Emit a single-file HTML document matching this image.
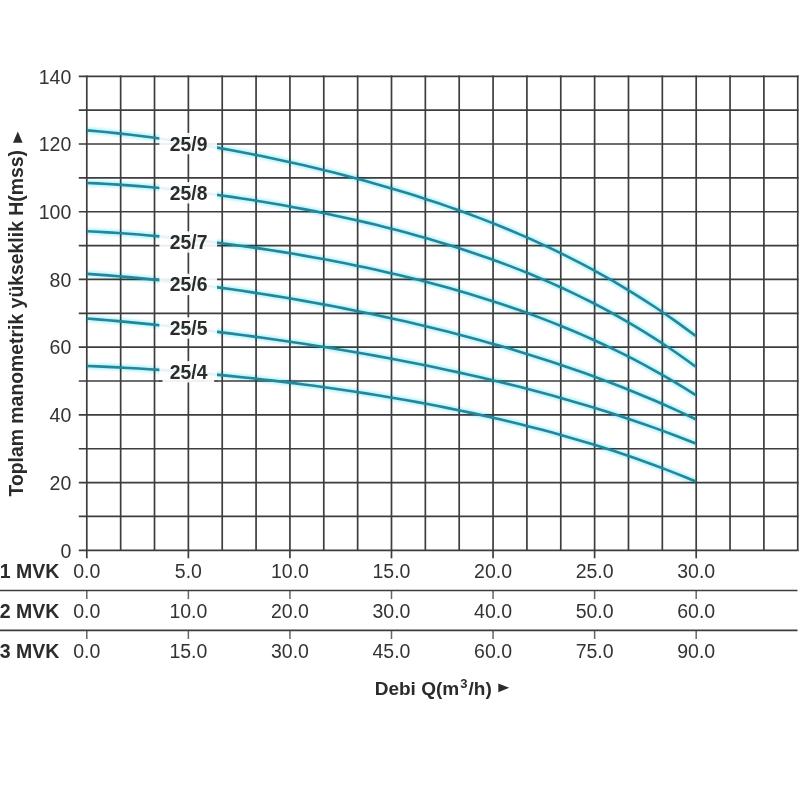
<!DOCTYPE html><html><head><meta charset="utf-8"><style>html,body{margin:0;padding:0;background:#fff;}svg{display:block;filter:blur(0.35px)}</style></head><body>
<svg width="800" height="800" viewBox="0 0 800 800">
<rect width="800" height="800" fill="#fff"/>
<g stroke="#3d3d3d" stroke-width="1.70" fill="none"><line x1="78.8" y1="76.30" x2="798.55" y2="76.30"/><line x1="78.8" y1="110.16" x2="798.55" y2="110.16"/><line x1="78.8" y1="144.01" x2="798.55" y2="144.01"/><line x1="78.8" y1="177.87" x2="798.55" y2="177.87"/><line x1="78.8" y1="211.73" x2="798.55" y2="211.73"/><line x1="78.8" y1="245.58" x2="798.55" y2="245.58"/><line x1="78.8" y1="279.44" x2="798.55" y2="279.44"/><line x1="78.8" y1="313.30" x2="798.55" y2="313.30"/><line x1="78.8" y1="347.16" x2="798.55" y2="347.16"/><line x1="78.8" y1="381.01" x2="798.55" y2="381.01"/><line x1="78.8" y1="414.87" x2="798.55" y2="414.87"/><line x1="78.8" y1="448.73" x2="798.55" y2="448.73"/><line x1="78.8" y1="482.58" x2="798.55" y2="482.58"/><line x1="78.8" y1="516.44" x2="798.55" y2="516.44"/><line x1="78.8" y1="550.30" x2="798.55" y2="550.30"/><line x1="86.80" y1="75.50" x2="86.80" y2="551.10"/><line x1="120.66" y1="75.50" x2="120.66" y2="551.10"/><line x1="154.51" y1="75.50" x2="154.51" y2="551.10"/><line x1="188.37" y1="75.50" x2="188.37" y2="551.10"/><line x1="222.22" y1="75.50" x2="222.22" y2="551.10"/><line x1="256.07" y1="75.50" x2="256.07" y2="551.10"/><line x1="289.93" y1="75.50" x2="289.93" y2="551.10"/><line x1="323.78" y1="75.50" x2="323.78" y2="551.10"/><line x1="357.64" y1="75.50" x2="357.64" y2="551.10"/><line x1="391.50" y1="75.50" x2="391.50" y2="551.10"/><line x1="425.35" y1="75.50" x2="425.35" y2="551.10"/><line x1="459.20" y1="75.50" x2="459.20" y2="551.10"/><line x1="493.06" y1="75.50" x2="493.06" y2="551.10"/><line x1="526.91" y1="75.50" x2="526.91" y2="551.10"/><line x1="560.77" y1="75.50" x2="560.77" y2="551.10"/><line x1="594.62" y1="75.50" x2="594.62" y2="551.10"/><line x1="628.48" y1="75.50" x2="628.48" y2="551.10"/><line x1="662.33" y1="75.50" x2="662.33" y2="551.10"/><line x1="696.19" y1="75.50" x2="696.19" y2="551.10"/><line x1="730.04" y1="75.50" x2="730.04" y2="551.10"/><line x1="763.90" y1="75.50" x2="763.90" y2="551.10"/><line x1="797.75" y1="75.50" x2="797.75" y2="551.10"/><line x1="86.80" y1="550.30" x2="86.80" y2="558.30"/><line x1="86.80" y1="590.50" x2="86.80" y2="599.10" stroke="#666" stroke-width="1.5"/><line x1="86.80" y1="630.40" x2="86.80" y2="639.00" stroke="#666" stroke-width="1.5"/><line x1="188.37" y1="550.30" x2="188.37" y2="558.30"/><line x1="188.37" y1="590.50" x2="188.37" y2="599.10" stroke="#666" stroke-width="1.5"/><line x1="188.37" y1="630.40" x2="188.37" y2="639.00" stroke="#666" stroke-width="1.5"/><line x1="289.93" y1="550.30" x2="289.93" y2="558.30"/><line x1="289.93" y1="590.50" x2="289.93" y2="599.10" stroke="#666" stroke-width="1.5"/><line x1="289.93" y1="630.40" x2="289.93" y2="639.00" stroke="#666" stroke-width="1.5"/><line x1="391.50" y1="550.30" x2="391.50" y2="558.30"/><line x1="391.50" y1="590.50" x2="391.50" y2="599.10" stroke="#666" stroke-width="1.5"/><line x1="391.50" y1="630.40" x2="391.50" y2="639.00" stroke="#666" stroke-width="1.5"/><line x1="493.06" y1="550.30" x2="493.06" y2="558.30"/><line x1="493.06" y1="590.50" x2="493.06" y2="599.10" stroke="#666" stroke-width="1.5"/><line x1="493.06" y1="630.40" x2="493.06" y2="639.00" stroke="#666" stroke-width="1.5"/><line x1="594.62" y1="550.30" x2="594.62" y2="558.30"/><line x1="594.62" y1="590.50" x2="594.62" y2="599.10" stroke="#666" stroke-width="1.5"/><line x1="594.62" y1="630.40" x2="594.62" y2="639.00" stroke="#666" stroke-width="1.5"/><line x1="696.19" y1="550.30" x2="696.19" y2="558.30"/><line x1="696.19" y1="590.50" x2="696.19" y2="599.10" stroke="#666" stroke-width="1.5"/><line x1="696.19" y1="630.40" x2="696.19" y2="639.00" stroke="#666" stroke-width="1.5"/><line x1="0" y1="590.50" x2="797.5" y2="590.50"/><line x1="0" y1="630.40" x2="797.5" y2="630.40"/></g>
<defs><filter id="hb" x="-5%%" y="-5%%" width="110%%" height="110%%"><feGaussianBlur stdDeviation="1.3"/></filter></defs>
<g fill="none" stroke="#a8f0fa" stroke-width="6.5" stroke-linecap="butt" opacity="0.75" filter="url(#hb)" style="mix-blend-mode:multiply"><path d="M87.20 130.39 L97.52 131.29 L107.83 132.29 L118.15 133.36 L128.46 134.52 L138.78 135.76 L149.09 137.08 L159.41 138.48 L169.72 139.95 L180.04 141.49 L190.35 143.10 L200.67 144.78 L210.98 146.53 L221.30 148.35 L231.61 150.24 L241.93 152.19 L252.24 154.21 L262.56 156.30 L272.87 158.46 L283.19 160.68 L293.51 162.97 L303.82 165.33 L314.14 167.76 L324.45 170.26 L334.77 172.84 L345.08 175.49 L355.40 178.22 L365.71 181.02 L376.03 183.91 L386.34 186.88 L396.66 189.94 L406.97 193.08 L417.29 196.32 L427.60 199.66 L437.92 203.09 L448.23 206.63 L458.55 210.27 L468.86 214.03 L479.18 217.90 L489.49 221.90 L499.81 226.02 L510.13 230.27 L520.44 234.65 L530.76 239.18 L541.07 243.85 L551.39 248.68 L561.70 253.66 L572.02 258.81 L582.33 264.13 L592.65 269.63 L602.96 275.32 L613.28 281.20 L623.59 287.27 L633.91 293.56 L644.22 300.06 L654.54 306.78 L664.85 313.74 L675.17 320.93 L685.48 328.37 L695.80 336.07"/><path d="M87.20 182.94 L97.52 183.40 L107.83 183.97 L118.15 184.61 L128.46 185.35 L138.78 186.17 L149.09 187.07 L159.41 188.04 L169.72 189.09 L180.04 190.22 L190.35 191.42 L200.67 192.69 L210.98 194.02 L221.30 195.43 L231.61 196.91 L241.93 198.45 L252.24 200.06 L262.56 201.74 L272.87 203.48 L283.19 205.30 L293.51 207.18 L303.82 209.13 L314.14 211.15 L324.45 213.25 L334.77 215.41 L345.08 217.66 L355.40 219.98 L365.71 222.37 L376.03 224.86 L386.34 227.42 L396.66 230.08 L406.97 232.82 L417.29 235.66 L427.60 238.60 L437.92 241.64 L448.23 244.78 L458.55 248.04 L468.86 251.41 L479.18 254.90 L489.49 258.51 L499.81 262.25 L510.13 266.13 L520.44 270.16 L530.76 274.32 L541.07 278.64 L551.39 283.12 L561.70 287.77 L572.02 292.59 L582.33 297.59 L592.65 302.78 L602.96 308.16 L613.28 313.75 L623.59 319.54 L633.91 325.56 L644.22 331.80 L654.54 338.28 L664.85 345.00 L675.17 351.98 L685.48 359.22 L695.80 366.73"/><path d="M87.20 231.31 L97.52 231.82 L107.83 232.41 L118.15 233.06 L128.46 233.78 L138.78 234.57 L149.09 235.43 L159.41 236.35 L169.72 237.34 L180.04 238.38 L190.35 239.49 L200.67 240.66 L210.98 241.88 L221.30 243.17 L231.61 244.52 L241.93 245.92 L252.24 247.38 L262.56 248.91 L272.87 250.49 L283.19 252.14 L293.51 253.84 L303.82 255.61 L314.14 257.44 L324.45 259.33 L334.77 261.30 L345.08 263.32 L355.40 265.42 L365.71 267.59 L376.03 269.84 L386.34 272.16 L396.66 274.55 L406.97 277.03 L417.29 279.59 L427.60 282.24 L437.92 284.98 L448.23 287.81 L458.55 290.74 L468.86 293.77 L479.18 296.90 L489.49 300.14 L499.81 303.49 L510.13 306.96 L520.44 310.55 L530.76 314.26 L541.07 318.11 L551.39 322.09 L561.70 326.21 L572.02 330.47 L582.33 334.89 L592.65 339.47 L602.96 344.20 L613.28 349.11 L623.59 354.19 L633.91 359.45 L644.22 364.90 L654.54 370.55 L664.85 376.39 L675.17 382.45 L685.48 388.72 L695.80 395.21"/><path d="M87.20 273.84 L97.52 274.58 L107.83 275.38 L118.15 276.23 L128.46 277.15 L138.78 278.12 L149.09 279.15 L159.41 280.23 L169.72 281.37 L180.04 282.57 L190.35 283.81 L200.67 285.11 L210.98 286.46 L221.30 287.86 L231.61 289.31 L241.93 290.81 L252.24 292.36 L262.56 293.96 L272.87 295.61 L283.19 297.32 L293.51 299.07 L303.82 300.87 L314.14 302.73 L324.45 304.63 L334.77 306.59 L345.08 308.60 L355.40 310.67 L365.71 312.79 L376.03 314.96 L386.34 317.20 L396.66 319.48 L406.97 321.83 L417.29 324.24 L427.60 326.71 L437.92 329.24 L448.23 331.84 L458.55 334.50 L468.86 337.23 L479.18 340.03 L489.49 342.90 L499.81 345.85 L510.13 348.87 L520.44 351.97 L530.76 355.15 L541.07 358.42 L551.39 361.76 L561.70 365.20 L572.02 368.73 L582.33 372.35 L592.65 376.07 L602.96 379.88 L613.28 383.80 L623.59 387.82 L633.91 391.96 L644.22 396.20 L654.54 400.56 L664.85 405.04 L675.17 409.64 L685.48 414.37 L695.80 419.23"/><path d="M87.20 318.49 L97.52 319.34 L107.83 320.23 L118.15 321.15 L128.46 322.11 L138.78 323.11 L149.09 324.14 L159.41 325.21 L169.72 326.31 L180.04 327.45 L190.35 328.62 L200.67 329.82 L210.98 331.06 L221.30 332.34 L231.61 333.65 L241.93 334.99 L252.24 336.37 L262.56 337.79 L272.87 339.24 L283.19 340.73 L293.51 342.25 L303.82 343.82 L314.14 345.42 L324.45 347.06 L334.77 348.74 L345.08 350.46 L355.40 352.23 L365.71 354.03 L376.03 355.88 L386.34 357.77 L396.66 359.71 L406.97 361.70 L417.29 363.74 L427.60 365.82 L437.92 367.96 L448.23 370.15 L458.55 372.39 L468.86 374.69 L479.18 377.05 L489.49 379.46 L499.81 381.94 L510.13 384.48 L520.44 387.09 L530.76 389.76 L541.07 392.50 L551.39 395.31 L561.70 398.20 L572.02 401.16 L582.33 404.20 L592.65 407.32 L602.96 410.52 L613.28 413.81 L623.59 417.19 L633.91 420.66 L644.22 424.21 L654.54 427.87 L664.85 431.63 L675.17 435.48 L685.48 439.44 L695.80 443.51"/><path d="M87.20 365.99 L97.52 366.39 L107.83 366.86 L118.15 367.37 L128.46 367.93 L138.78 368.54 L149.09 369.20 L159.41 369.91 L169.72 370.66 L180.04 371.46 L190.35 372.30 L200.67 373.18 L210.98 374.11 L221.30 375.09 L231.61 376.11 L241.93 377.17 L252.24 378.27 L262.56 379.42 L272.87 380.61 L283.19 381.84 L293.51 383.12 L303.82 384.45 L314.14 385.81 L324.45 387.23 L334.77 388.69 L345.08 390.19 L355.40 391.75 L365.71 393.35 L376.03 395.01 L386.34 396.72 L396.66 398.47 L406.97 400.29 L417.29 402.15 L427.60 404.08 L437.92 406.06 L448.23 408.11 L458.55 410.22 L468.86 412.39 L479.18 414.63 L489.49 416.93 L499.81 419.31 L510.13 421.76 L520.44 424.28 L530.76 426.89 L541.07 429.57 L551.39 432.34 L561.70 435.19 L572.02 438.13 L582.33 441.17 L592.65 444.30 L602.96 447.52 L613.28 450.85 L623.59 454.29 L633.91 457.83 L644.22 461.48 L654.54 465.25 L664.85 469.14 L675.17 473.15 L685.48 477.29 L695.80 481.55"/></g>
<g fill="none" stroke="#22879a" stroke-width="2.6" stroke-linecap="butt"><path d="M87.20 130.39 L97.52 131.29 L107.83 132.29 L118.15 133.36 L128.46 134.52 L138.78 135.76 L149.09 137.08 L159.41 138.48 L169.72 139.95 L180.04 141.49 L190.35 143.10 L200.67 144.78 L210.98 146.53 L221.30 148.35 L231.61 150.24 L241.93 152.19 L252.24 154.21 L262.56 156.30 L272.87 158.46 L283.19 160.68 L293.51 162.97 L303.82 165.33 L314.14 167.76 L324.45 170.26 L334.77 172.84 L345.08 175.49 L355.40 178.22 L365.71 181.02 L376.03 183.91 L386.34 186.88 L396.66 189.94 L406.97 193.08 L417.29 196.32 L427.60 199.66 L437.92 203.09 L448.23 206.63 L458.55 210.27 L468.86 214.03 L479.18 217.90 L489.49 221.90 L499.81 226.02 L510.13 230.27 L520.44 234.65 L530.76 239.18 L541.07 243.85 L551.39 248.68 L561.70 253.66 L572.02 258.81 L582.33 264.13 L592.65 269.63 L602.96 275.32 L613.28 281.20 L623.59 287.27 L633.91 293.56 L644.22 300.06 L654.54 306.78 L664.85 313.74 L675.17 320.93 L685.48 328.37 L695.80 336.07"/><path d="M87.20 182.94 L97.52 183.40 L107.83 183.97 L118.15 184.61 L128.46 185.35 L138.78 186.17 L149.09 187.07 L159.41 188.04 L169.72 189.09 L180.04 190.22 L190.35 191.42 L200.67 192.69 L210.98 194.02 L221.30 195.43 L231.61 196.91 L241.93 198.45 L252.24 200.06 L262.56 201.74 L272.87 203.48 L283.19 205.30 L293.51 207.18 L303.82 209.13 L314.14 211.15 L324.45 213.25 L334.77 215.41 L345.08 217.66 L355.40 219.98 L365.71 222.37 L376.03 224.86 L386.34 227.42 L396.66 230.08 L406.97 232.82 L417.29 235.66 L427.60 238.60 L437.92 241.64 L448.23 244.78 L458.55 248.04 L468.86 251.41 L479.18 254.90 L489.49 258.51 L499.81 262.25 L510.13 266.13 L520.44 270.16 L530.76 274.32 L541.07 278.64 L551.39 283.12 L561.70 287.77 L572.02 292.59 L582.33 297.59 L592.65 302.78 L602.96 308.16 L613.28 313.75 L623.59 319.54 L633.91 325.56 L644.22 331.80 L654.54 338.28 L664.85 345.00 L675.17 351.98 L685.48 359.22 L695.80 366.73"/><path d="M87.20 231.31 L97.52 231.82 L107.83 232.41 L118.15 233.06 L128.46 233.78 L138.78 234.57 L149.09 235.43 L159.41 236.35 L169.72 237.34 L180.04 238.38 L190.35 239.49 L200.67 240.66 L210.98 241.88 L221.30 243.17 L231.61 244.52 L241.93 245.92 L252.24 247.38 L262.56 248.91 L272.87 250.49 L283.19 252.14 L293.51 253.84 L303.82 255.61 L314.14 257.44 L324.45 259.33 L334.77 261.30 L345.08 263.32 L355.40 265.42 L365.71 267.59 L376.03 269.84 L386.34 272.16 L396.66 274.55 L406.97 277.03 L417.29 279.59 L427.60 282.24 L437.92 284.98 L448.23 287.81 L458.55 290.74 L468.86 293.77 L479.18 296.90 L489.49 300.14 L499.81 303.49 L510.13 306.96 L520.44 310.55 L530.76 314.26 L541.07 318.11 L551.39 322.09 L561.70 326.21 L572.02 330.47 L582.33 334.89 L592.65 339.47 L602.96 344.20 L613.28 349.11 L623.59 354.19 L633.91 359.45 L644.22 364.90 L654.54 370.55 L664.85 376.39 L675.17 382.45 L685.48 388.72 L695.80 395.21"/><path d="M87.20 273.84 L97.52 274.58 L107.83 275.38 L118.15 276.23 L128.46 277.15 L138.78 278.12 L149.09 279.15 L159.41 280.23 L169.72 281.37 L180.04 282.57 L190.35 283.81 L200.67 285.11 L210.98 286.46 L221.30 287.86 L231.61 289.31 L241.93 290.81 L252.24 292.36 L262.56 293.96 L272.87 295.61 L283.19 297.32 L293.51 299.07 L303.82 300.87 L314.14 302.73 L324.45 304.63 L334.77 306.59 L345.08 308.60 L355.40 310.67 L365.71 312.79 L376.03 314.96 L386.34 317.20 L396.66 319.48 L406.97 321.83 L417.29 324.24 L427.60 326.71 L437.92 329.24 L448.23 331.84 L458.55 334.50 L468.86 337.23 L479.18 340.03 L489.49 342.90 L499.81 345.85 L510.13 348.87 L520.44 351.97 L530.76 355.15 L541.07 358.42 L551.39 361.76 L561.70 365.20 L572.02 368.73 L582.33 372.35 L592.65 376.07 L602.96 379.88 L613.28 383.80 L623.59 387.82 L633.91 391.96 L644.22 396.20 L654.54 400.56 L664.85 405.04 L675.17 409.64 L685.48 414.37 L695.80 419.23"/><path d="M87.20 318.49 L97.52 319.34 L107.83 320.23 L118.15 321.15 L128.46 322.11 L138.78 323.11 L149.09 324.14 L159.41 325.21 L169.72 326.31 L180.04 327.45 L190.35 328.62 L200.67 329.82 L210.98 331.06 L221.30 332.34 L231.61 333.65 L241.93 334.99 L252.24 336.37 L262.56 337.79 L272.87 339.24 L283.19 340.73 L293.51 342.25 L303.82 343.82 L314.14 345.42 L324.45 347.06 L334.77 348.74 L345.08 350.46 L355.40 352.23 L365.71 354.03 L376.03 355.88 L386.34 357.77 L396.66 359.71 L406.97 361.70 L417.29 363.74 L427.60 365.82 L437.92 367.96 L448.23 370.15 L458.55 372.39 L468.86 374.69 L479.18 377.05 L489.49 379.46 L499.81 381.94 L510.13 384.48 L520.44 387.09 L530.76 389.76 L541.07 392.50 L551.39 395.31 L561.70 398.20 L572.02 401.16 L582.33 404.20 L592.65 407.32 L602.96 410.52 L613.28 413.81 L623.59 417.19 L633.91 420.66 L644.22 424.21 L654.54 427.87 L664.85 431.63 L675.17 435.48 L685.48 439.44 L695.80 443.51"/><path d="M87.20 365.99 L97.52 366.39 L107.83 366.86 L118.15 367.37 L128.46 367.93 L138.78 368.54 L149.09 369.20 L159.41 369.91 L169.72 370.66 L180.04 371.46 L190.35 372.30 L200.67 373.18 L210.98 374.11 L221.30 375.09 L231.61 376.11 L241.93 377.17 L252.24 378.27 L262.56 379.42 L272.87 380.61 L283.19 381.84 L293.51 383.12 L303.82 384.45 L314.14 385.81 L324.45 387.23 L334.77 388.69 L345.08 390.19 L355.40 391.75 L365.71 393.35 L376.03 395.01 L386.34 396.72 L396.66 398.47 L406.97 400.29 L417.29 402.15 L427.60 404.08 L437.92 406.06 L448.23 408.11 L458.55 410.22 L468.86 412.39 L479.18 414.63 L489.49 416.93 L499.81 419.31 L510.13 421.76 L520.44 424.28 L530.76 426.89 L541.07 429.57 L551.39 432.34 L561.70 435.19 L572.02 438.13 L582.33 441.17 L592.65 444.30 L602.96 447.52 L613.28 450.85 L623.59 454.29 L633.91 457.83 L644.22 461.48 L654.54 465.25 L664.85 469.14 L675.17 473.15 L685.48 477.29 L695.80 481.55"/></g>
<rect x="159.4" y="132.90" width="57.6" height="21.4" fill="#fff" fill-opacity="0.9"/><text x="169.8" y="150.60" textLength="37.6" lengthAdjust="spacingAndGlyphs" style="font-family:'Liberation Sans',sans-serif;font-weight:bold;font-size:20.2px" fill="#2b2b2b">25/9</text><rect x="159.4" y="182.10" width="57.6" height="21.4" fill="#fff" fill-opacity="0.9"/><text x="169.8" y="199.80" textLength="37.6" lengthAdjust="spacingAndGlyphs" style="font-family:'Liberation Sans',sans-serif;font-weight:bold;font-size:20.2px" fill="#2b2b2b">25/8</text><rect x="159.4" y="231.30" width="57.6" height="21.4" fill="#fff" fill-opacity="0.9"/><text x="169.8" y="249.00" textLength="37.6" lengthAdjust="spacingAndGlyphs" style="font-family:'Liberation Sans',sans-serif;font-weight:bold;font-size:20.2px" fill="#2b2b2b">25/7</text><rect x="159.4" y="273.70" width="57.6" height="21.4" fill="#fff" fill-opacity="0.9"/><text x="169.8" y="291.40" textLength="37.6" lengthAdjust="spacingAndGlyphs" style="font-family:'Liberation Sans',sans-serif;font-weight:bold;font-size:20.2px" fill="#2b2b2b">25/6</text><rect x="159.4" y="317.30" width="57.6" height="21.4" fill="#fff" fill-opacity="0.9"/><text x="169.8" y="335.00" textLength="37.6" lengthAdjust="spacingAndGlyphs" style="font-family:'Liberation Sans',sans-serif;font-weight:bold;font-size:20.2px" fill="#2b2b2b">25/5</text><rect x="159.4" y="361.10" width="57.6" height="21.4" fill="#fff" fill-opacity="0.9"/><text x="169.8" y="378.80" textLength="37.6" lengthAdjust="spacingAndGlyphs" style="font-family:'Liberation Sans',sans-serif;font-weight:bold;font-size:20.2px" fill="#2b2b2b">25/4</text>
<g stroke="#3d3d3d" stroke-width="1.70"><line x1="159" y1="381.01" x2="162.5" y2="381.01"/><line x1="214.2" y1="381.01" x2="217.5" y2="381.01"/></g>
<g style="font-family:'Liberation Sans',sans-serif;font-size:19.5px" fill="#333"><text x="71.3" y="83.50" text-anchor="end">140</text><text x="71.3" y="151.21" text-anchor="end">120</text><text x="71.3" y="218.93" text-anchor="end">100</text><text x="71.3" y="286.64" text-anchor="end">80</text><text x="71.3" y="354.36" text-anchor="end">60</text><text x="71.3" y="422.07" text-anchor="end">40</text><text x="71.3" y="489.78" text-anchor="end">20</text><text x="71.3" y="557.50" text-anchor="end">0</text></g>
<g style="font-family:'Liberation Sans',sans-serif;font-size:19.5px"><text x="-0.3" y="578.40" style="font-weight:bold" fill="#2b2b2b">1 MVK</text><text x="86.80" y="578.40" text-anchor="middle" fill="#333">0.0</text><text x="188.37" y="578.40" text-anchor="middle" fill="#333">5.0</text><text x="289.93" y="578.40" text-anchor="middle" fill="#333">10.0</text><text x="391.50" y="578.40" text-anchor="middle" fill="#333">15.0</text><text x="493.06" y="578.40" text-anchor="middle" fill="#333">20.0</text><text x="594.62" y="578.40" text-anchor="middle" fill="#333">25.0</text><text x="696.19" y="578.40" text-anchor="middle" fill="#333">30.0</text><text x="-0.3" y="618.30" style="font-weight:bold" fill="#2b2b2b">2 MVK</text><text x="86.80" y="618.30" text-anchor="middle" fill="#333">0.0</text><text x="188.37" y="618.30" text-anchor="middle" fill="#333">10.0</text><text x="289.93" y="618.30" text-anchor="middle" fill="#333">20.0</text><text x="391.50" y="618.30" text-anchor="middle" fill="#333">30.0</text><text x="493.06" y="618.30" text-anchor="middle" fill="#333">40.0</text><text x="594.62" y="618.30" text-anchor="middle" fill="#333">50.0</text><text x="696.19" y="618.30" text-anchor="middle" fill="#333">60.0</text><text x="-0.3" y="658.20" style="font-weight:bold" fill="#2b2b2b">3 MVK</text><text x="86.80" y="658.20" text-anchor="middle" fill="#333">0.0</text><text x="188.37" y="658.20" text-anchor="middle" fill="#333">15.0</text><text x="289.93" y="658.20" text-anchor="middle" fill="#333">30.0</text><text x="391.50" y="658.20" text-anchor="middle" fill="#333">45.0</text><text x="493.06" y="658.20" text-anchor="middle" fill="#333">60.0</text><text x="594.62" y="658.20" text-anchor="middle" fill="#333">75.0</text><text x="696.19" y="658.20" text-anchor="middle" fill="#333">90.0</text></g>
<text x="374.7" y="694.5" style="font-family:'Liberation Sans',sans-serif;font-size:19px;font-weight:bold" fill="#2b2b2b">Debi Q(m<tspan dx="1.2" dy="-6.8" style="font-size:13px">3</tspan><tspan dx="1" dy="6.8">/h)</tspan></text>
<polygon points="498.3,683.4 498.3,692.3 509.2,687.85" fill="#2b2b2b"/>
<text transform="translate(22.7,496.5) rotate(-90)" x="0" y="0" textLength="346.5" lengthAdjust="spacingAndGlyphs" style="font-family:'Liberation Sans',sans-serif;font-size:20.5px;font-weight:bold" fill="#2b2b2b">Toplam manometrik yükseklik H(mss)</text>
<polygon points="13,142.8 22.6,142.8 17.8,131.4" fill="#2b2b2b"/>
</svg></body></html>
